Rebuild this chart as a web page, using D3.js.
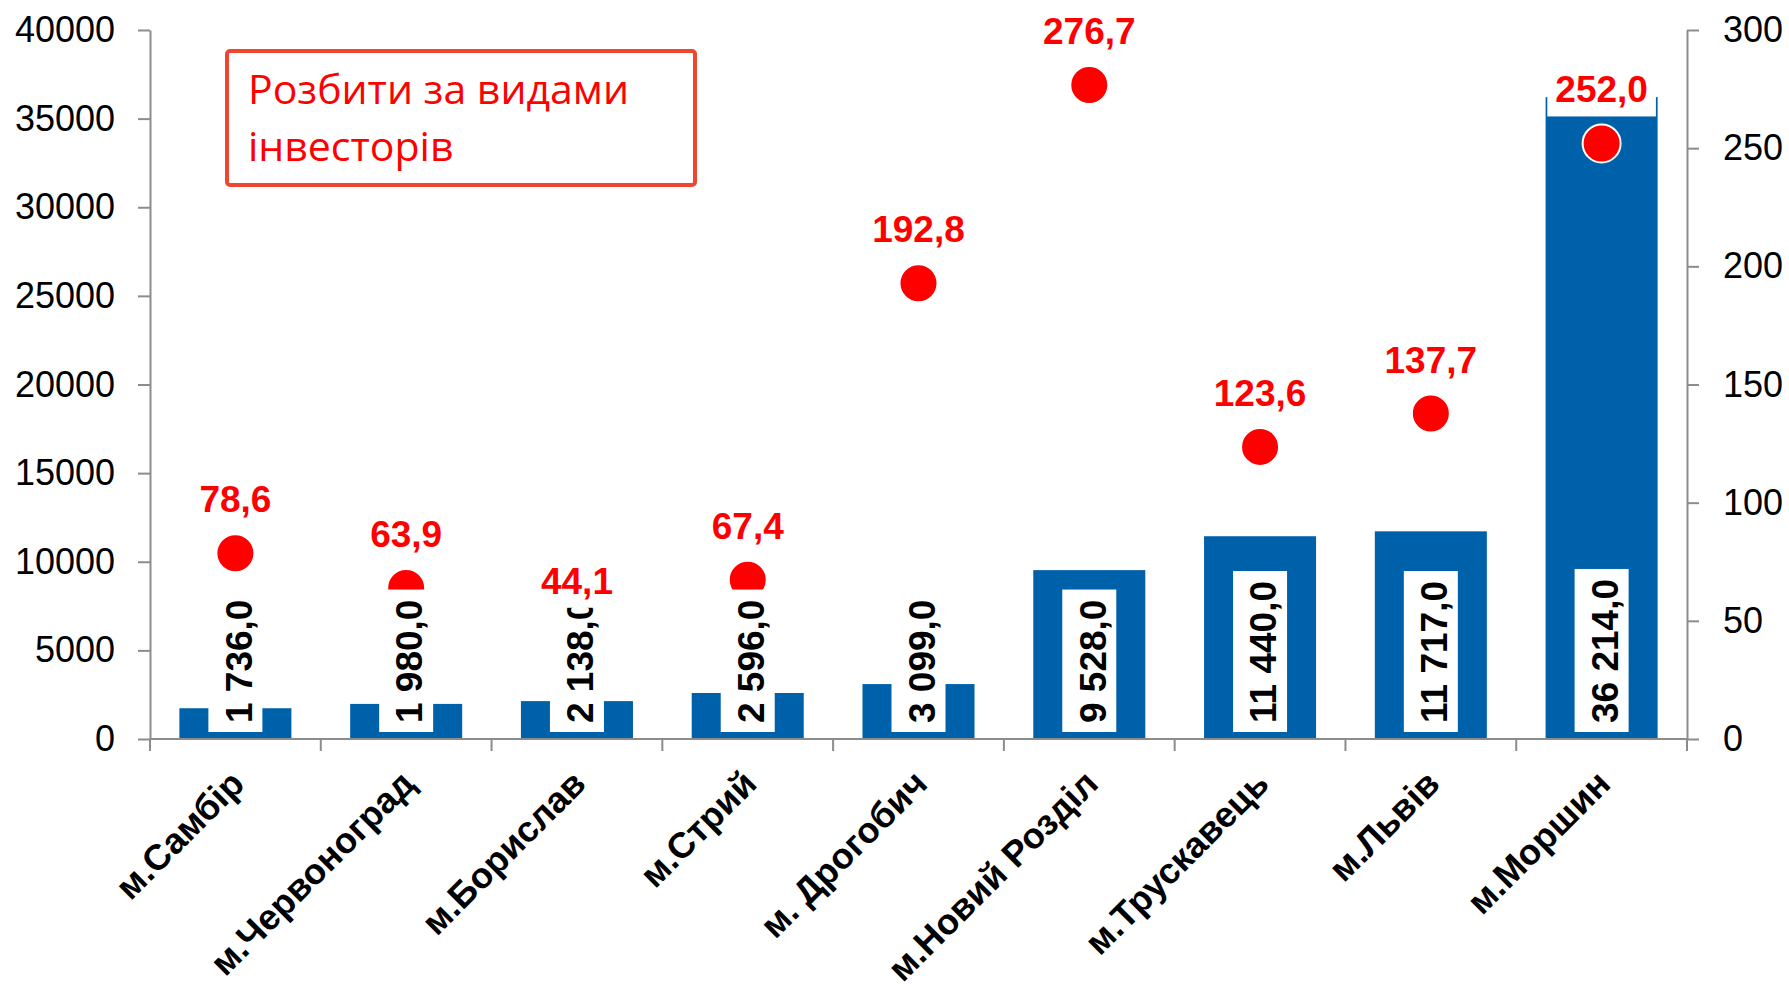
<!DOCTYPE html>
<html lang="uk">
<head>
<meta charset="utf-8">
<title>Інвестиції по містах</title>
<script src="https://cdn.jsdelivr.net/npm/d3@7"></script>
<style>
  body { margin: 0; background: #fff; }
  svg { display: block; }
</style>
</head>
<body>
<div id="chart"></div>
<script>
const cities = [
  "м.Самбір",
  "м.Червоноград",
  "м.Борислав",
  "м.Стрий",
  "м. Дрогобич",
  "м.Новий Розділ",
  "м.Трускавець",
  "м.Львів",
  "м.Моршин",
];
const investments = [1736, 1980, 2138, 2596, 3099, 9528, 11440, 11717, 36214];
const perCapita = [78.6, 63.9, 44.1, 67.4, 192.8, 276.7, 123.6, 137.7, 252.0];
const leftTicks = [0, 5000, 10000, 15000, 20000, 25000, 30000, 35000, 40000];
const rightTicks = [0, 50, 100, 150, 200, 250, 300];
const noteLines = ["Розбити за видами", "інвесторів"];

const width = 1789;
const height = 996;
const plotLeft = 150;
const plotRight = 1687;
const plotTop = 30;
const plotBottom = 739;

const blue = "#0061AB";
const red = "#FF0000";
const axisGrey = "#8C8C8C";

const uk = d3.formatLocale({
  decimal: ",",
  thousands: " ",
  grouping: [3],
  currency: ["", ""],
});
const fmt = uk.format(",.1f");

const svg = d3
  .select("#chart")
  .append("svg")
  .attr("width", width)
  .attr("height", height)
  .attr("viewBox", `0 0 ${width} ${height}`);

const x = d3.scaleBand().domain(cities).range([plotLeft, plotRight]).padding(0);
const yL = d3.scaleLinear().domain([0, 40000]).range([plotBottom, plotTop]);
const yR = d3.scaleLinear().domain([0, 300]).range([plotBottom, plotTop]);

const barW = x.step() * 0.656;
const cx = (d) => x(d) + x.bandwidth() / 2;

const data = cities.map((c, i) => ({
  city: c,
  value: investments[i],
  rate: perCapita[i],
}));

// bars
svg
  .append("g")
  .selectAll("rect")
  .data(data)
  .join("rect")
  .attr("x", (d) => cx(d.city) - barW / 2)
  .attr("y", (d) => yL(d.value))
  .attr("width", barW)
  .attr("height", (d) => yL(0) - yL(d.value))
  .attr("fill", blue);

// red dots (second axis)
svg
  .append("g")
  .selectAll("circle")
  .data(data)
  .join("circle")
  .attr("cx", (d) => cx(d.city))
  .attr("cy", (d) => yR(d.rate))
  .attr("r", 19)
  .attr("fill", red)
  .attr("stroke", "#fff")
  .attr("stroke-width", 2);

// vertical value labels inside bars, white box behind
const valueG = svg
  .append("g")
  .selectAll("g")
  .data(data)
  .join("g")
  .attr("transform", (d) => `translate(${cx(d.city) + 3},${plotBottom - 16}) rotate(-90)`);

valueG
  .append("text")
  .attr("dy", "0.36em")
  .style("font-family", "'Liberation Sans', Arial, sans-serif")
  .style("font-weight", "bold")
  .style("font-size", "37px")
  .attr("fill", "#000")
  .text((d) => fmt(d.value));

valueG.each(function () {
  const g = d3.select(this);
  const len = g.select("text").node().getComputedTextLength();
  g.insert("rect", "text")
    .attr("x", -9)
    .attr("y", -30)
    .attr("width", len + 19)
    .attr("height", 54)
    .attr("fill", "#fff");
});

// red labels over the dots (their white box may hide what is under it)
const rateG = svg
  .append("g")
  .selectAll("g")
  .data(data)
  .join("g")
  .attr("transform", (d) => `translate(${cx(d.city)},${yR(d.rate) - 41})`);

rateG
  .append("text")
  .attr("text-anchor", "middle")
  .style("font-family", "'Liberation Sans', Arial, sans-serif")
  .style("font-weight", "bold")
  .style("font-size", "37px")
  .attr("fill", red)
  .text((d) => fmt(d.rate));

rateG.each(function () {
  const g = d3.select(this);
  const len = g.select("text").node().getComputedTextLength();
  g.insert("rect", "text")
    .attr("x", -len / 2 - 8)
    .attr("y", -31)
    .attr("width", len + 16)
    .attr("height", 45)
    .attr("fill", "#fff");
});

// axes
const styleAxis = (g) => {
  g.select(".domain").attr("stroke", axisGrey).attr("stroke-width", 2);
  g.selectAll(".tick line").attr("stroke", axisGrey).attr("stroke-width", 2);
  g.selectAll(".tick text")
    .attr("fill", "#000")
    .style("font-family", "'Liberation Sans', Arial, sans-serif")
    .style("font-size", "36px");
};

svg
  .append("g")
  .attr("transform", `translate(${plotLeft},0)`)
  .call(
    d3.axisLeft(yL).tickValues(leftTicks).tickFormat(d3.format("d")).tickSize(12).tickPadding(23).tickSizeOuter(0)
  )
  .call(styleAxis);

svg
  .append("g")
  .attr("transform", `translate(${plotRight},0)`)
  .call(
    d3.axisRight(yR).tickValues(rightTicks).tickFormat(d3.format("d")).tickSize(12).tickPadding(24).tickSizeOuter(0)
  )
  .call(styleAxis);

// category axis: ticks sit between the bands
const xAxis = svg.append("g");
xAxis
  .append("line")
  .attr("x1", plotLeft)
  .attr("x2", plotRight)
  .attr("y1", plotBottom)
  .attr("y2", plotBottom)
  .attr("stroke", axisGrey)
  .attr("stroke-width", 2);

xAxis
  .selectAll("line.tk")
  .data(cities.concat(["end"]))
  .join("line")
  .attr("class", "tk")
  .attr("x1", (d, i) => plotLeft + i * x.step())
  .attr("x2", (d, i) => plotLeft + i * x.step())
  .attr("y1", plotBottom)
  .attr("y2", plotBottom + 12)
  .attr("stroke", axisGrey)
  .attr("stroke-width", 2);

xAxis
  .selectAll("text")
  .data(cities)
  .join("text")
  .attr("transform", (d) => `translate(${cx(d) - 7},${plotBottom + 29}) rotate(-45)`)
  .attr("text-anchor", "end")
  .attr("dy", "0.7em")
  .style("font-family", "'Liberation Sans', Arial, sans-serif")
  .style("font-weight", "bold")
  .style("font-size", "36px")
  .attr("fill", "#000")
  .text((d) => d);

// note box
const note = svg.append("g");
note
  .append("rect")
  .attr("x", 227)
  .attr("y", 51)
  .attr("width", 468)
  .attr("height", 134)
  .attr("rx", 3)
  .attr("fill", "#fff")
  .attr("stroke", "#EF4630")
  .attr("stroke-width", 4);

note
  .selectAll("text")
  .data(noteLines)
  .join("text")
  .attr("x", 248)
  .attr("y", (d, i) => 104 + i * 57)
  .style("font-family", "'Open Sans', 'Noto Sans', sans-serif")
  .style("font-size", "41px")
  .attr("fill", red)
  .text((d) => d);
</script>
</body>
</html>
